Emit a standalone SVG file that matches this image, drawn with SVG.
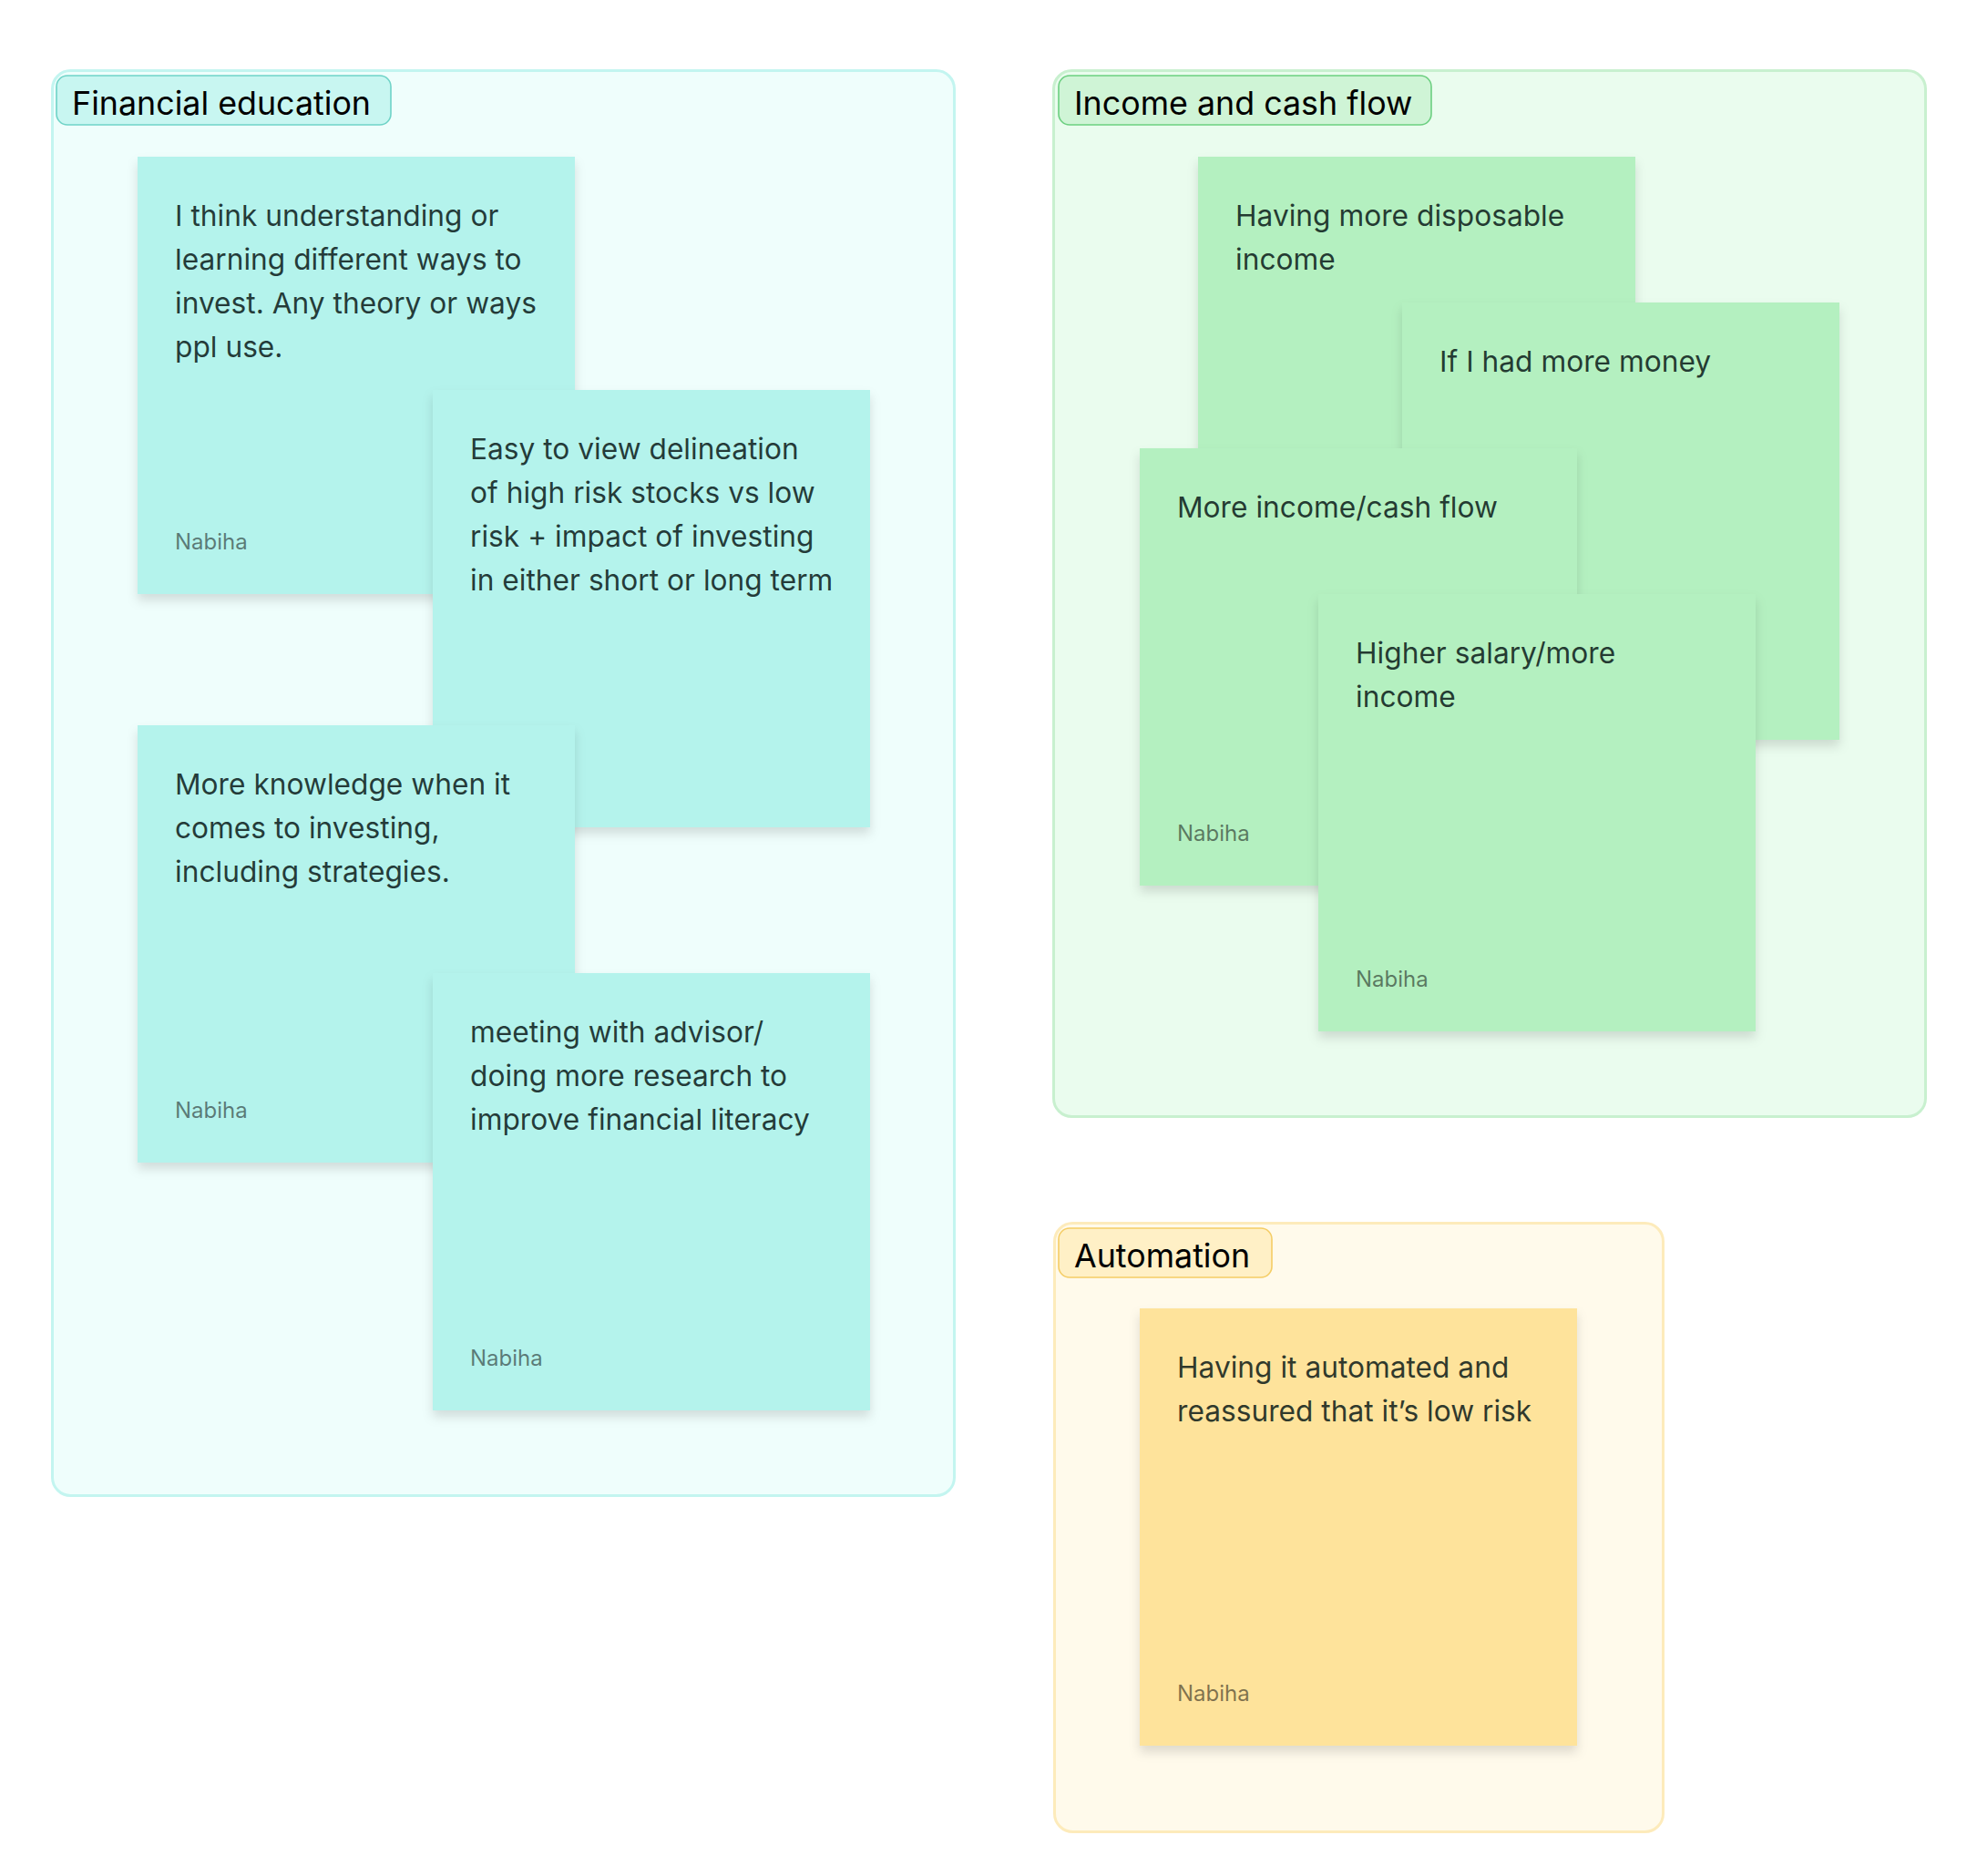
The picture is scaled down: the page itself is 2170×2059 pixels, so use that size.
<svg xmlns="http://www.w3.org/2000/svg" width="2170" height="2059" viewBox="0 0 2170 2059">
<defs>
<filter id="sh" x="-10%" y="-10%" width="120%" height="125%">
<feDropShadow dx="0" dy="7" stdDeviation="6" flood-color="#000" flood-opacity="0.13"/>
</filter>
</defs>
<style>
.frame{stroke-width:3}
.lbl{stroke-width:1.6}
.lt{font-family:Inter,"Liberation Sans",sans-serif;font-size:35.8px;fill:#000}
.st{font-family:Inter,"Liberation Sans",sans-serif;font-size:31.7px;fill:#0a1a18;fill-opacity:0.86}
.au{font-family:Inter,"Liberation Sans",sans-serif;font-size:24px;fill:#000;fill-opacity:0.5}
.teal{fill:#b4f3ec}
.green{fill:#b4f0c0}
.yellow{fill:#fee39b}
</style>
<rect width="2170" height="2059" fill="#ffffff"/>
<g id="frame-financial-education">
<rect class="frame" x="57.5" y="77.5" width="990" height="1564" rx="20" fill="#effefc" stroke="#c3f5f0"/>
<rect class="lbl" x="62" y="83" width="367" height="54" rx="12" fill="#c8f6f1" stroke="#6fd3c7"/>
<text class="lt" x="79" y="126">Financial education</text>
</g>
<g id="frame-income-cash-flow">
<rect class="frame" x="1156.5" y="77.5" width="957" height="1148" rx="20" fill="#eafcee" stroke="#c8f0cf"/>
<rect class="lbl" x="1162" y="83" width="409" height="54" rx="12" fill="#cff4d6" stroke="#6ccf80"/>
<text class="lt" x="1179" y="126">Income and cash flow</text>
</g>
<g id="frame-automation">
<rect class="frame" x="1157.5" y="1342.5" width="668" height="668" rx="20" fill="#fffaeb" stroke="#fdebbb"/>
<rect class="lbl" x="1162" y="1348" width="234" height="54" rx="12" fill="#fff0c6" stroke="#f5cd66"/>
<text class="lt" x="1179" y="1391">Automation</text>
</g>
<g id="connectors"/>
<g id="sticky-1">
<rect class="teal" x="151" y="172" width="480" height="480" filter="url(#sh)"/>
<text class="st" x="192" y="248"><tspan x="192">I think understanding or</tspan><tspan x="192" dy="48">learning different ways to</tspan><tspan x="192" dy="48">invest. Any theory or ways</tspan><tspan x="192" dy="48">ppl use.</tspan></text>
<text class="au" x="192" y="603">Nabiha</text>
</g>
<g id="sticky-2">
<rect class="teal" x="475" y="428" width="480" height="480" filter="url(#sh)"/>
<text class="st" x="516" y="504"><tspan x="516">Easy to view delineation</tspan><tspan x="516" dy="48">of high risk stocks vs low</tspan><tspan x="516" dy="48">risk + impact of investing</tspan><tspan x="516" dy="48">in either short or long term</tspan></text>
</g>
<g id="sticky-3">
<rect class="teal" x="151" y="796" width="480" height="480" filter="url(#sh)"/>
<text class="st" x="192" y="872"><tspan x="192">More knowledge when it</tspan><tspan x="192" dy="48">comes to investing,</tspan><tspan x="192" dy="48">including strategies.</tspan></text>
<text class="au" x="192" y="1227">Nabiha</text>
</g>
<g id="sticky-4">
<rect class="teal" x="475" y="1068" width="480" height="480" filter="url(#sh)"/>
<text class="st" x="516" y="1144"><tspan x="516">meeting with advisor/</tspan><tspan x="516" dy="48">doing more research to</tspan><tspan x="516" dy="48">improve financial literacy</tspan></text>
<text class="au" x="516" y="1499">Nabiha</text>
</g>
<g id="sticky-5">
<rect class="green" x="1315" y="172" width="480" height="480" filter="url(#sh)"/>
<text class="st" x="1356" y="248"><tspan x="1356">Having more disposable</tspan><tspan x="1356" dy="48">income</tspan></text>
</g>
<g id="sticky-6">
<rect class="green" x="1539" y="332" width="480" height="480" filter="url(#sh)"/>
<text class="st" x="1580" y="408">If I had more money</text>
</g>
<g id="sticky-7">
<rect class="green" x="1251" y="492" width="480" height="480" filter="url(#sh)"/>
<text class="st" x="1292" y="568">More income/cash flow</text>
<text class="au" x="1292" y="923">Nabiha</text>
</g>
<g id="sticky-8">
<rect class="green" x="1447" y="652" width="480" height="480" filter="url(#sh)"/>
<text class="st" x="1488" y="728"><tspan x="1488">Higher salary/more</tspan><tspan x="1488" dy="48">income</tspan></text>
<text class="au" x="1488" y="1083">Nabiha</text>
</g>
<g id="sticky-9">
<rect class="yellow" x="1251" y="1436" width="480" height="480" filter="url(#sh)"/>
<text class="st" x="1292" y="1512"><tspan x="1292">Having it automated and</tspan><tspan x="1292" dy="48">reassured that it’s low risk</tspan></text>
<text class="au" x="1292" y="1867">Nabiha</text>
</g>
</svg>
